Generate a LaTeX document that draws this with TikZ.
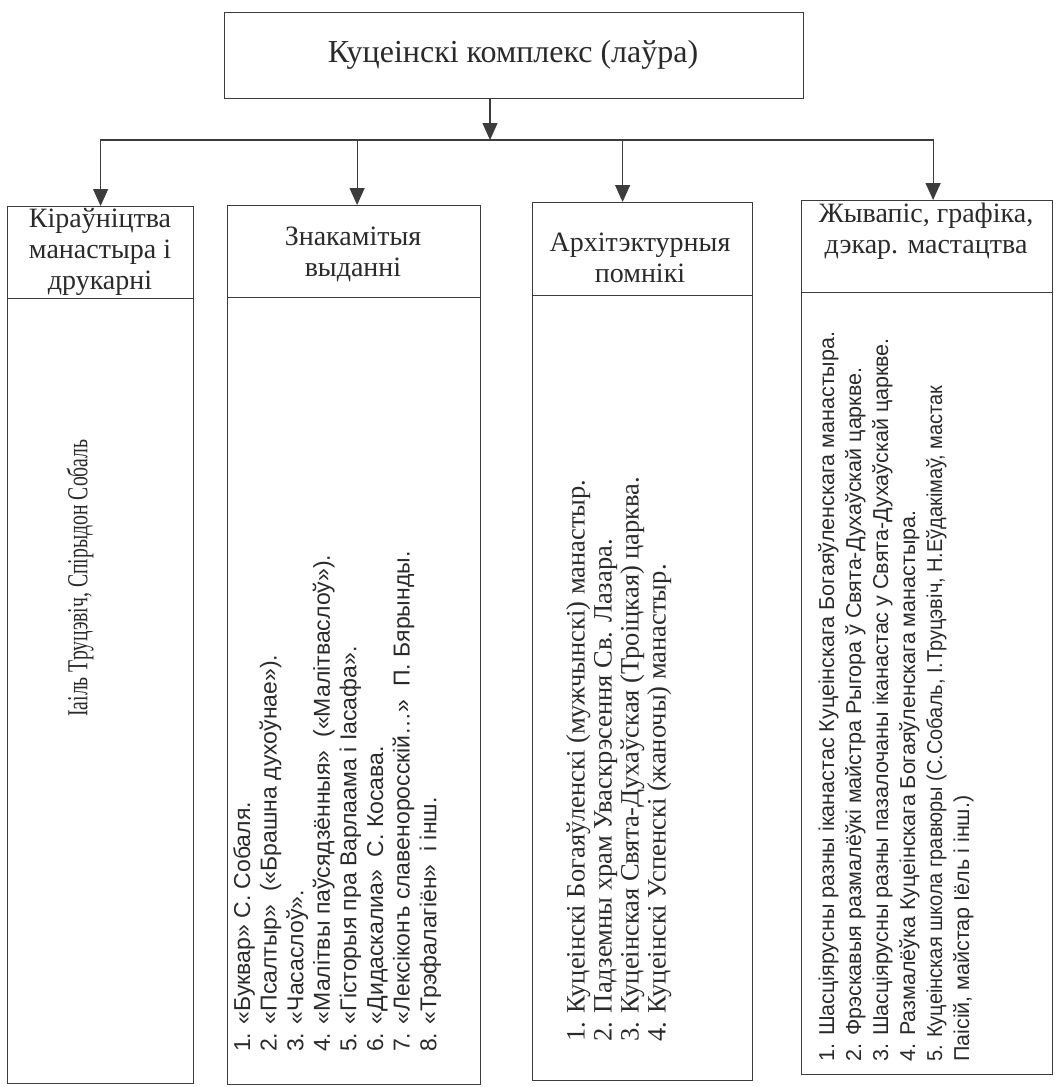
\documentclass[tikz,border=0pt]{standalone}
\usepackage{fontspec}
\setmainfont{Liberation Serif}
\newfontfamily\sansf{Liberation Sans}
\newfontfamily\sansn[FakeStretch=0.93]{Liberation Sans}
\newfontfamily\serifc[FakeStretch=0.68]{Liberation Serif}
\usetikzlibrary{arrows.meta}
\definecolor{linec}{HTML}{3C3C3C}
\definecolor{textc}{HTML}{2A2A2A}
\begin{document}
\begin{tikzpicture}[x=1pt,y=-1pt,
  box/.style={draw=linec, line width=1.2pt, inner sep=0pt, anchor=north west},
  headtext/.style={text=textc, align=center, inner sep=0pt, font=\fontsize{28}{31}\selectfont},
  listtext/.style={text=textc, align=left, inner sep=0pt, rotate=90, anchor=north west},
  arr/.style={draw=linec, line width=1.2pt, -{Triangle[width=15pt,length=17pt]}}]
\useasboundingbox[fill=white] (0,0) rectangle (1056,1087);

% top box
\node[box, minimum width=579pt, minimum height=86pt] (top) at (224,12) {};
\node[text=textc, inner sep=0pt, font=\fontsize{32}{35}\selectfont] (toptext) at (513,55) {Куцеінскі комплекс (лаўра)};

% column headers
\node[box, minimum width=186pt, minimum height=92pt] (h1) at (7,206) {};
\node[box, minimum width=253pt, minimum height=92pt] (h2) at (227,205) {};
\node[box, minimum width=220pt, minimum height=93pt] (h3) at (532,202) {};
\node[box, minimum width=251pt, minimum height=92pt] (h4) at (801,200) {};

\node[headtext] (t1) at (100,252) {Кіраўніцтва\\манастыра і\\друкарні};
\node[headtext] (t2) at (353,254) {Знакамітыя\\выданні};
\node[headtext] (t3) at (640,258) {Архітэктурныя\\помнікі};
\node[headtext] (t4) at (926,231) {Жывапіс, графіка,\\дэкар. мастацтва};

% column bodies
\node[box, minimum width=186pt, minimum height=785pt] (b1) at (7,298) {};
\node[box, minimum width=253pt, minimum height=787pt] (b2) at (227,297) {};
\node[box, minimum width=220pt, minimum height=785pt] (b3) at (532,295) {};
\node[box, minimum width=251pt, minimum height=782pt] (b4) at (801,292) {};

% connectors
\coordinate (j) at (490,140);
\draw[arr] (j |- top.south) -- (j);
\draw[arr] (j) -| (h1.north);
\draw[arr] (j) -| ([xshift=3pt]h2.north);
\draw[arr] (j) -| ([xshift=-20pt]h3.north);
\draw[arr] (j) -| ([xshift=6pt]h4.north);

% body texts
\node[text=textc, inner sep=0pt, rotate=90, font=\serifc\fontsize{29}{32}\selectfont] (l1) at (80,578) {Іаіль Труцэвіч, Спірыдон Собаль};

\node[listtext, font=\sansf\fontsize{23}{26.6}\selectfont] (l2) at (233,1052) {%
1. «Буквар» С. Собаля.\\
2. «Псалтыр»\ \ («Брашна духоўнае»).\\
3. «Часаслоў».\\
4. «Малітвы паўсядзённыя»\ \ («Малітваслоў»).\\
5. «Гісторыя пра Варлаама і Іасафа».\\
6. «Дидаскалиа»\ \ С. Косава.\\
7. «Лексіконъ славеноросскій…»\ \ П. Бярынды.\\
8. «Трэфалагіён»\ \ і інш.};

\node[listtext, font=\fontsize{26.5}{27}\selectfont] (l3) at (566,1042) {%
1. Куцеінскі Богаяўленскі (мужчынскі) манастыр.\\
2. Падземны храм Уваскрэсення Св. Лазара.\\
3. Куцеінская Свята-Духаўская (Троіцкая) царква.\\
4. Куцеінскі Успенскі (жаночы) манастыр.};

\node[listtext, font=\sansf\fontsize{21.5}{27}\selectfont] (l4) at (818,1062) {%
1. Шасціярусны разны іканастас Куцеінскага Богаяўленскага манастыра.\\
2. Фрэскавыя размалёўкі майстра Рыгора ў Свята-Духаўскай царкве.\\
3. Шасціярусны разны пазалочаны іканастас у Свята-Духаўскай царкве.\\
4. Размалёўка Куцеінскага Богаяўленскага манастыра.\\
{\sansn 5. Куцеінская школа гравюры (С.Собаль, І.Труцэвіч, Н.Еўдакімаў, мастак}\\
Паісій, майстар Іёль і інш.)};
\end{tikzpicture}
\end{document}
